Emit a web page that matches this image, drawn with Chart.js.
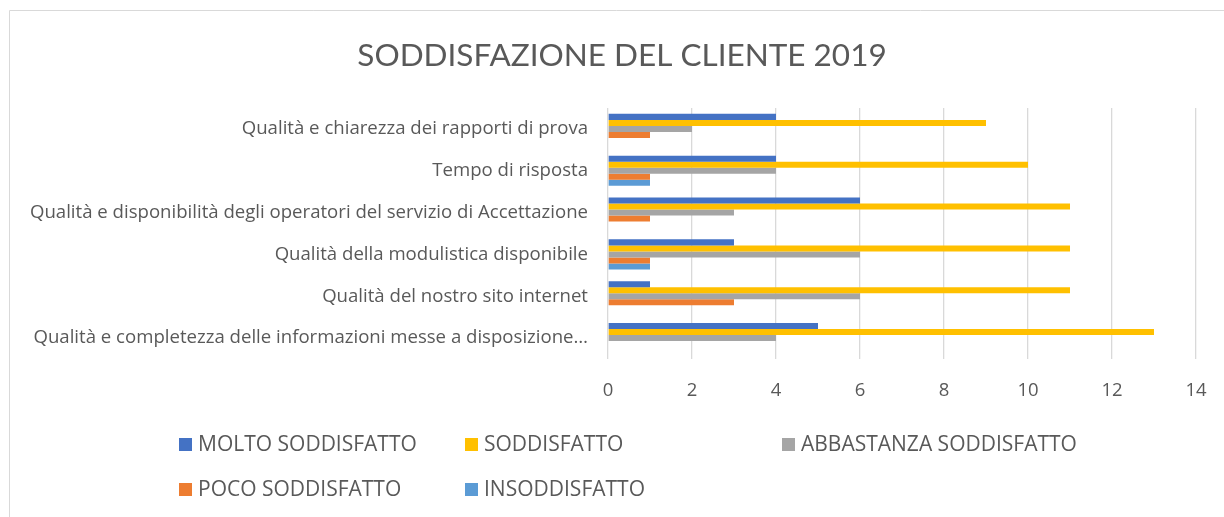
<!DOCTYPE html>
<html>
<head>
  <title>Soddisfazione del cliente 2019</title>
  <script src="https://cdn.jsdelivr.net/npm/chart.js"></script>
  <style>
    html, body { margin: 0; padding: 0; background: #fff; overflow: hidden; }
    #wrap { width: 1224px; height: 517px; position: relative; }
  </style>
</head>
<body>
  <div id="wrap">
    <canvas id="satChart"></canvas>
  </div>

  <script>
    // categories, top to bottom as in the picture
    const categories = [
      'Qualità e chiarezza dei rapporti di prova',
      'Tempo di risposta',
      'Qualità e disponibilità degli operatori del servizio di Accettazione',
      'Qualità della modulistica disponibile',
      'Qualità del nostro sito internet',
      'Qualità e completezza delle informazioni messe a disposizione…'
    ];

    const seriesNames = ['MOLTO SODDISFATTO', 'SODDISFATTO', 'ABBASTANZA SODDISFATTO', 'POCO SODDISFATTO', 'INSODDISFATTO'];

    const moltoSoddisfatto      = [4, 4, 6, 3, 1, 5];
    const soddisfatto           = [9, 10, 11, 11, 11, 13];
    const abbastanzaSoddisfatto = [2, 4, 3, 6, 6, 4];
    const pocoSoddisfatto       = [1, 1, 1, 1, 3, 0];
    const insoddisfatto         = [0, 1, 0, 1, 0, 0];

    const xTicks = [0, 2, 4, 6, 8, 10, 12, 14];

    const chartTitle = 'SODDISFAZIONE DEL CLIENTE 2019';

    const colors = ['#4472C4', '#FFC000', '#A5A5A5', '#ED7D31', '#5B9BD5'];
    const textColor = '#595959';
    const fontFamily = '"Open Sans", Lato, sans-serif';

    const values = [moltoSoddisfatto, soddisfatto, abbastanzaSoddisfatto, pocoSoddisfatto, insoddisfatto];

    // outer frame + title, like the office chart
    const framePlugin = {
      id: 'frame',
      beforeDraw(chart) {
        const ctx = chart.ctx;
        ctx.save();
        ctx.strokeStyle = '#d9d9d9';
        ctx.lineWidth = 1;
        ctx.beginPath();
        ctx.moveTo(9.5, chart.height);
        ctx.lineTo(9.5, 10.5);
        ctx.lineTo(chart.width, 10.5);
        ctx.stroke();

        ctx.fillStyle = textColor;
        ctx.font = '31.5px Lato, sans-serif';
        ctx.textAlign = 'center';
        ctx.textBaseline = 'middle';
        ctx.fillText(chartTitle, 622, 56);
        ctx.restore();
      }
    };

    // legend laid out in fixed columns, two rows
    const gridLegend = {
      id: 'gridLegend',
      afterDraw(chart) {
        const ctx = chart.ctx;
        const cols = [179, 465, 782];
        const rows = [445, 490];
        ctx.save();
        ctx.font = '21px ' + fontFamily;
        ctx.textBaseline = 'middle';
        chart.data.datasets.forEach((ds, i) => {
          const x = cols[i % 3];
          const y = rows[Math.floor(i / 3)];
          ctx.fillStyle = ds.backgroundColor;
          ctx.fillRect(x, y - 7, 13, 13);
          ctx.fillStyle = textColor;
          ctx.fillText(ds.label, x + 19, y);
        });
        ctx.restore();
      }
    };

    const ctx = document.getElementById('satChart').getContext('2d');

    new Chart(ctx, {
      type: 'bar',
      data: {
        labels: categories,
        datasets: seriesNames.map((name, i) => ({
          label: name,
          data: values[i],
          backgroundColor: colors[i],
          borderWidth: 0,
          categoryPercentage: 0.72,
          barPercentage: 1
        }))
      },
      options: {
        indexAxis: 'y',
        responsive: true,
        maintainAspectRatio: false,
        animation: false,
        layout: { padding: { left: 0, right: 28, top: 108, bottom: 108 } },
        scales: {
          x: {
            min: 0,
            max: 14,
            afterBuildTicks(scale) {
              scale.ticks = xTicks.map(v => ({ value: v }));
            },
            afterFit(scale) {
              scale.height = 50;
              scale.paddingRight = 0;
              scale.paddingLeft = 0;
            },
            grid: { color: '#d9d9d9', lineWidth: 1.3, drawTicks: false },
            border: { display: false },
            ticks: {
              color: textColor,
              padding: 21,
              font: { family: fontFamily, size: 18.5 }
            }
          },
          y: {
            afterFit(scale) { scale.width = 608; },
            grid: { display: false, drawTicks: false },
            border: { display: false },
            ticks: {
              color: textColor,
              padding: 20,
              autoSkip: false,
              font: { family: fontFamily, size: 18.6 }
            }
          }
        },
        plugins: {
          legend: { display: false },
          tooltip: { enabled: false },
          title: { display: false }
        }
      },
      plugins: [framePlugin, gridLegend]
    });
  </script>
</body>
</html>
